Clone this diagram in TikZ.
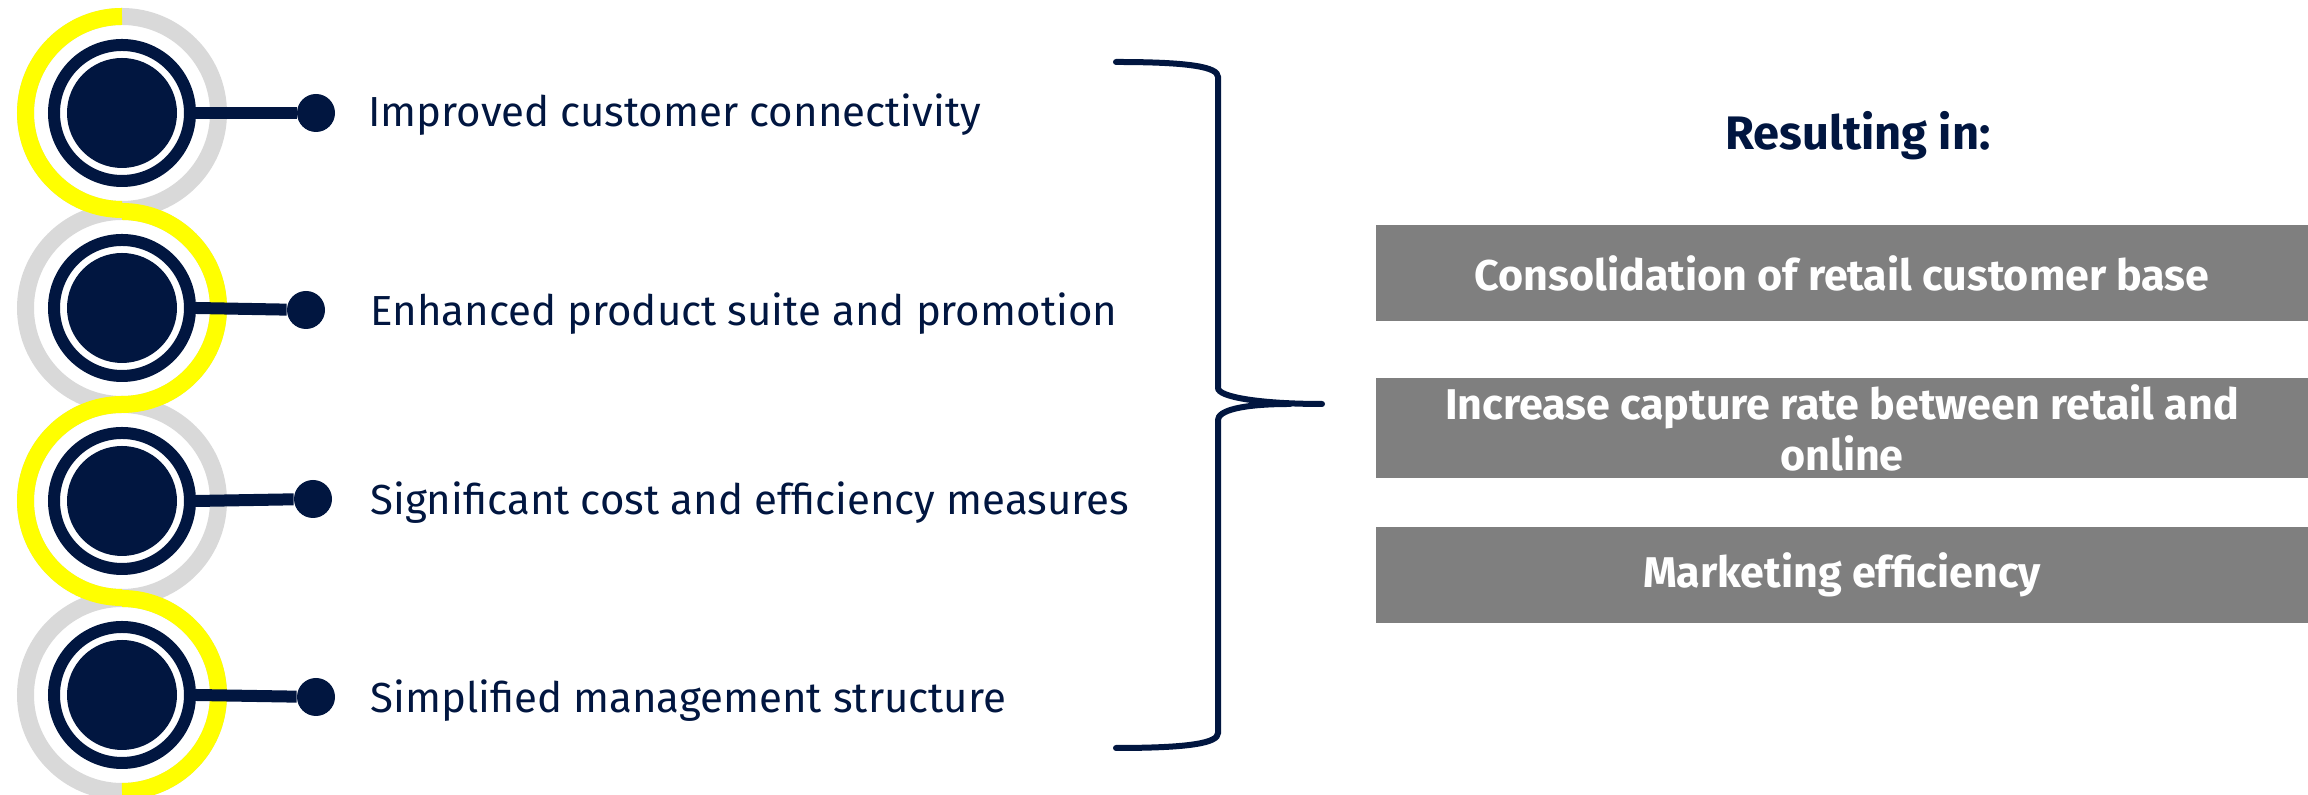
\documentclass[tikz,border=0pt]{standalone}
\usepackage{fontspec}
\setmainfont{Fira Sans}
\usepackage{tikz}

\definecolor{navy}{RGB}{1,22,64}
\definecolor{ringgray}{RGB}{217,217,217}
\definecolor{ringyellow}{RGB}{255,255,0}
\definecolor{boxgray}{RGB}{127,127,127}

\begin{document}
\begin{tikzpicture}[x=0.5pt,y=0.5pt,
    hub/.style={
% The shape:
circle,
% The size:
minimum size=68pt,
% The border:
line width=6pt, draw=navy, fill=white,
},
    core/.style={
% The shape:
circle,
% The size:
minimum size=55pt,
fill=navy
},
    knob/.style={
% The shape:
circle, inner sep=0pt,
% The size:
minimum size=19pt,
fill=navy
},
    item/.style={
anchor=west, inner sep=0pt, text=navy,
font=\fontsize{21pt}{25pt}\selectfont
},
    result/.style={
% The shape:
rectangle,
% The size:
minimum height=48pt,
minimum width=466pt,
fill=boxgray, text=white, align=center,
font=\bfseries\fontsize{21.5pt}{25.5pt}\selectfont
},
    gray ring/.style={draw=ringgray, line width=8.5pt},
    yellow ring/.style={draw=ringyellow, line width=8.5pt},
    stem/.style={draw=navy, line width=6pt},
]
  \useasboundingbox (0,0) rectangle (2308,795);

  \draw[gray ring] (122,682) circle (96.5);
  \draw[gray ring] (122,487) circle (96.5);
  \draw[gray ring] (122,294) circle (96.5);
  \draw[gray ring] (122,100) circle (96.5);

  \draw[yellow ring] (122,778.5) arc[start angle=90, end angle=270, radius=96.5];
  \draw[yellow ring] (122,583.5) arc[start angle=90, end angle=-90, radius=96.5];
  \draw[yellow ring] (122,390.5) arc[start angle=90, end angle=270, radius=96.5];
  \draw[yellow ring] (122,196.5) arc[start angle=90, end angle=-90, radius=96.5];

  \node[hub]  (h1) at (122,682) {};
  \node[core]      at (122,682) {};
  \node[hub]  (h2) at (122,487) {};
  \node[core]      at (122,487) {};
  \node[hub]  (h3) at (122,294) {};
  \node[core]      at (122,294) {};
  \node[hub]  (h4) at (122,100) {};
  \node[core]      at (122,100) {};

  \node[knob] (k1) at (316,682) {};
  \node[knob] (k2) at (306,485) {};
  \node[knob] (k3) at (313,296) {};
  \node[knob] (k4) at (316,98)  {};

  \draw[stem] (h1.east) -- (k1);
  \draw[stem] (h2.east) -- (k2);
  \draw[stem] (h3.east) -- (k3);
  \draw[stem] (h4.east) -- (k4);

  \node[item] (t1) at (368,680) {Improved customer connectivity};
  \node[item] (t2) at (370,481) {Enhanced product suite and promotion};
  \node[item] (t3) at (370,292) {Significant cost and efficiency measures};
  \node[item] (t4) at (370,94)  {Simplified management structure};

  % brace
  \draw[navy, line width=3pt, line cap=round]
    (1116,733) .. controls (1190,733) and (1218,728) .. (1218,718)
    -- (1218,407) .. controls (1218,398) and (1260,391) .. (1322,391);
  \draw[navy, line width=3pt, line cap=round]
    (1116,47) .. controls (1190,47) and (1218,52) .. (1218,62)
    -- (1218,375) .. controls (1218,384) and (1240,391) .. (1290,391);

  \node[text=navy, font=\bfseries\fontsize{23.5pt}{27pt}\selectfont] (head) at (1858,659) {Resulting in:};

  \node[result] (r1) at (1842,522) {Consolidation of retail customer base};
  \node[result] (r2) at (1842,367) {Increase capture rate between retail and\\online};
  \node[result] (r3) at (1842,220) {Marketing efficiency};
\end{tikzpicture}
\end{document}
